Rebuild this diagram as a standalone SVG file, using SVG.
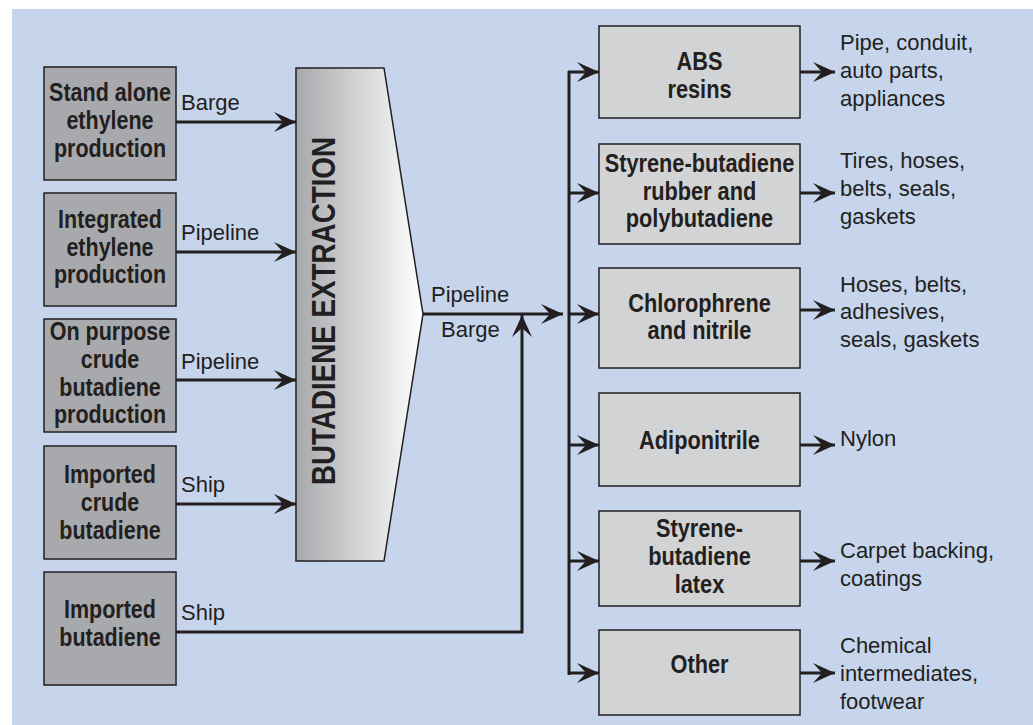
<svg xmlns="http://www.w3.org/2000/svg" width="1033" height="725" viewBox="0 0 1033 725">
<defs>
<linearGradient id="grad" x1="0" y1="0" x2="1" y2="0">
<stop offset="0" stop-color="#a7a9ac"/>
<stop offset="1" stop-color="#ffffff"/>
</linearGradient>
<marker id="ah" markerUnits="userSpaceOnUse" markerWidth="24" markerHeight="22" viewBox="-23 -11 24 22" refX="0" refY="0" orient="auto">
<path d="M0,0 L-22,-10 L-13,0 L-22,10 Z" fill="#231f20"/>
</marker>
<style>
.lbox{fill:#a7a9ac;stroke:#231f20;stroke-width:1.5}
.rbox{fill:#d1d3d4;stroke:#231f20;stroke-width:1.5}
.nt{font-family:"Liberation Sans",Arial,sans-serif;font-weight:bold;font-size:25px;fill:#231f20;text-anchor:middle}
.lt{font-family:"Liberation Sans","DejaVu Sans",Arial,sans-serif;font-size:22px;fill:#231f20}
.conn line,.conn polyline{stroke:#231f20;stroke-width:3;fill:none}
</style>
</defs>
<rect x="12" y="9" width="1021" height="716" fill="#c6d5ec"/>

<g id="n-standalone"><rect class="lbox" x="44" y="67" width="132" height="113"/>
<text class="nt" transform="translate(110,0) scale(0.86,1) translate(-110,0)"><tspan x="110" y="101">Stand alone</tspan><tspan x="110" y="129">ethylene</tspan><tspan x="110" y="157">production</tspan></text></g>
<g id="n-integrated"><rect class="lbox" x="44" y="193" width="132" height="113"/>
<text class="nt" transform="translate(110,0) scale(0.86,1) translate(-110,0)"><tspan x="110" y="228">Integrated</tspan><tspan x="110" y="256">ethylene</tspan><tspan x="110" y="283">production</tspan></text></g>
<g id="n-onpurpose"><rect class="lbox" x="44" y="319" width="132" height="113"/>
<text class="nt" transform="translate(110,0) scale(0.86,1) translate(-110,0)"><tspan x="110" y="340">On purpose</tspan><tspan x="110" y="368">crude</tspan><tspan x="110" y="396">butadiene</tspan><tspan x="110" y="423">production</tspan></text></g>
<g id="n-importedcrude"><rect class="lbox" x="44" y="446" width="132" height="113"/>
<text class="nt" transform="translate(110,0) scale(0.86,1) translate(-110,0)"><tspan x="110" y="483">Imported</tspan><tspan x="110" y="511">crude</tspan><tspan x="110" y="539">butadiene</tspan></text></g>
<g id="n-imported"><rect class="lbox" x="44" y="572" width="132" height="113"/>
<text class="nt" transform="translate(110,0) scale(0.86,1) translate(-110,0)"><tspan x="110" y="618">Imported</tspan><tspan x="110" y="646">butadiene</tspan></text></g>

<g id="n-extraction">
<path d="M296,68 L384,68 L423,314 L384,561 L296,561 Z" fill="url(#grad)" stroke="#231f20" stroke-width="1.5"/>
<text class="nt" transform="translate(335,311) rotate(-90)" x="0" y="0" style="font-size:33px" textLength="348" lengthAdjust="spacingAndGlyphs">BUTADIENE EXTRACTION</text>
</g>

<g id="n-abs"><rect class="rbox" x="599" y="26" width="201" height="92"/>
<text class="nt" transform="translate(699.5,0) scale(0.87,1) translate(-699.5,0)"><tspan x="699.5" y="70">ABS</tspan><tspan x="699.5" y="98">resins</tspan></text></g>
<g id="n-sbr"><rect class="rbox" x="599" y="144" width="201" height="100"/>
<text class="nt" transform="translate(699.5,0) scale(0.87,1) translate(-699.5,0)"><tspan x="699.5" y="172">Styrene-butadiene</tspan><tspan x="699.5" y="200">rubber and</tspan><tspan x="699.5" y="227">polybutadiene</tspan></text></g>
<g id="n-chloro"><rect class="rbox" x="599" y="268" width="201" height="100"/>
<text class="nt" transform="translate(699.5,0) scale(0.87,1) translate(-699.5,0)"><tspan x="699.5" y="312">Chlorophrene</tspan><tspan x="699.5" y="339">and nitrile</tspan></text></g>
<g id="n-adipo"><rect class="rbox" x="599" y="393" width="201" height="93"/>
<text class="nt" transform="translate(699.5,0) scale(0.87,1) translate(-699.5,0)"><tspan x="699.5" y="449">Adiponitrile</tspan></text></g>
<g id="n-latex"><rect class="rbox" x="599" y="511" width="201" height="95"/>
<text class="nt" transform="translate(699.5,0) scale(0.87,1) translate(-699.5,0)"><tspan x="699.5" y="537">Styrene-</tspan><tspan x="699.5" y="565">butadiene</tspan><tspan x="699.5" y="593">latex</tspan></text></g>
<g id="n-other"><rect class="rbox" x="599" y="630" width="201" height="85"/>
<text class="nt" transform="translate(699.5,0) scale(0.87,1) translate(-699.5,0)"><tspan x="699.5" y="673">Other</tspan></text></g>

<g id="n-uses" class="lt">
<text><tspan x="840" y="50">Pipe, conduit,</tspan><tspan x="840" y="78">auto parts,</tspan><tspan x="840" y="106">appliances</tspan></text>
<text><tspan x="840" y="168">Tires, hoses,</tspan><tspan x="840" y="196">belts, seals,</tspan><tspan x="840" y="224">gaskets</tspan></text>
<text><tspan x="840" y="292">Hoses, belts,</tspan><tspan x="840" y="319">adhesives,</tspan><tspan x="840" y="347">seals, gaskets</tspan></text>
<text><tspan x="840" y="446">Nylon</tspan></text>
<text><tspan x="840" y="558">Carpet backing,</tspan><tspan x="840" y="586">coatings</tspan></text>
<text><tspan x="840" y="653">Chemical</tspan><tspan x="840" y="681">intermediates,</tspan><tspan x="840" y="709">footwear</tspan></text>
</g>

<g id="connectors" class="conn">
<line x1="176" y1="122" x2="296" y2="122" marker-end="url(#ah)"/>
<line x1="176" y1="252" x2="296" y2="252" marker-end="url(#ah)"/>
<line x1="176" y1="380" x2="296" y2="380" marker-end="url(#ah)"/>
<line x1="176" y1="504" x2="296" y2="504" marker-end="url(#ah)"/>
<polyline points="176,632 522,632 522,315" marker-end="url(#ah)"/>
<line x1="423" y1="314" x2="563" y2="314" marker-end="url(#ah)"/>
<line x1="569" y1="71" x2="569" y2="675"/>
<line x1="568" y1="72" x2="599" y2="72" marker-end="url(#ah)"/>
<line x1="568" y1="193" x2="599" y2="193" marker-end="url(#ah)"/>
<line x1="568" y1="314" x2="599" y2="314" marker-end="url(#ah)"/>
<line x1="568" y1="445" x2="599" y2="445" marker-end="url(#ah)"/>
<line x1="568" y1="561" x2="599" y2="561" marker-end="url(#ah)"/>
<line x1="568" y1="673" x2="599" y2="673" marker-end="url(#ah)"/>
<line x1="800" y1="72" x2="835" y2="72" marker-end="url(#ah)"/>
<line x1="800" y1="193" x2="835" y2="193" marker-end="url(#ah)"/>
<line x1="800" y1="310" x2="835" y2="310" marker-end="url(#ah)"/>
<line x1="800" y1="445" x2="835" y2="445" marker-end="url(#ah)"/>
<line x1="800" y1="561" x2="835" y2="561" marker-end="url(#ah)"/>
<line x1="800" y1="673" x2="835" y2="673" marker-end="url(#ah)"/>
</g>

<g id="edge-labels" class="lt">
<text x="181" y="110">Barge</text>
<text x="181" y="240">Pipeline</text>
<text x="181" y="369">Pipeline</text>
<text x="181" y="492">Ship</text>
<text x="181" y="620">Ship</text>
<text x="431" y="302">Pipeline</text>
<text x="441" y="337">Barge</text>
</g>
</svg>
